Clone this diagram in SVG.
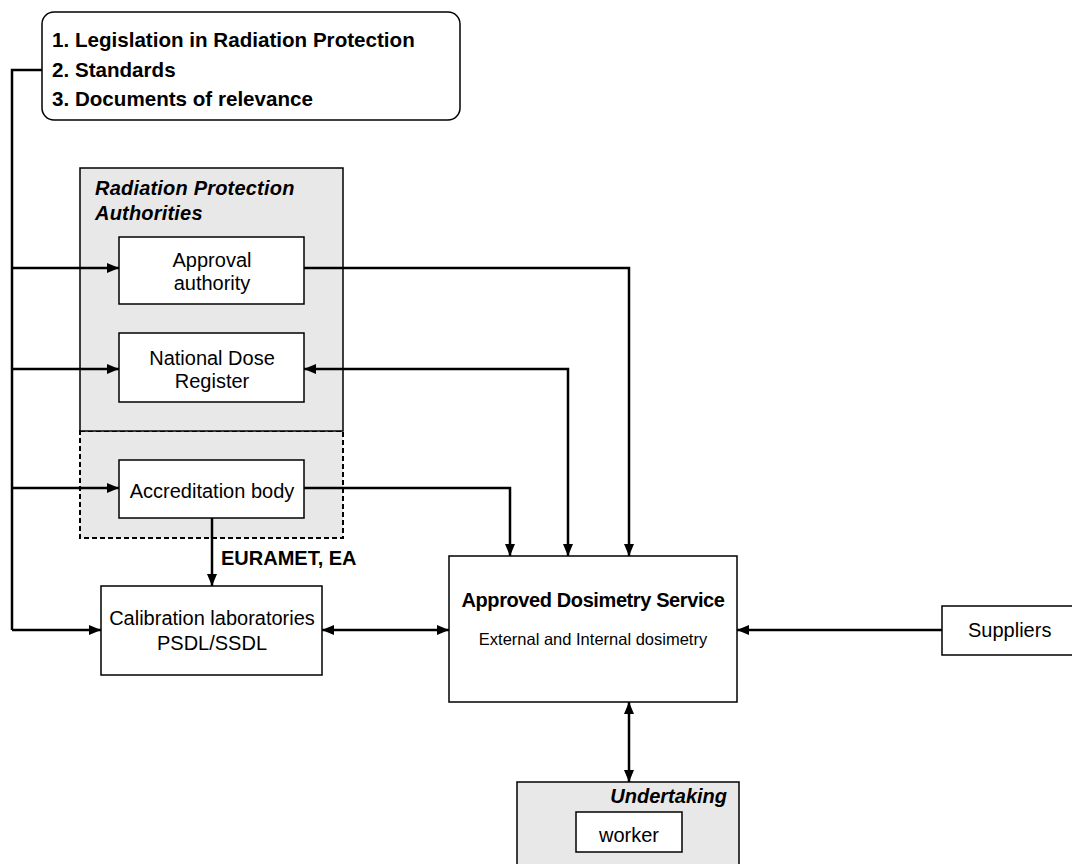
<svg xmlns="http://www.w3.org/2000/svg" width="1072" height="864" viewBox="0 0 1072 864">
<style>
text{font-family:"Liberation Sans",Arial,sans-serif;fill:#000}
.r{font-size:20px}
.t{font-size:20.6px;font-weight:bold}
.c{text-anchor:middle}
.b{font-weight:bold}
.bi{font-weight:bold;font-style:italic;font-size:20px}
.box{fill:#fff;stroke:#000;stroke-width:1.5}
.grey{fill:#e8e8e8;stroke:#000;stroke-width:1.5}
.conn{fill:none;stroke:#000;stroke-width:2.5}
</style>
<defs>
<marker id="ah" markerUnits="userSpaceOnUse" markerWidth="12" markerHeight="10" refX="12" refY="5" orient="auto-start-reverse"><path d="M0,0 L12,5 L0,10 z" fill="#000"/></marker>
</defs>
<rect width="1072" height="864" fill="#fff"/>

<g id="legislation">
<rect x="42" y="12" width="418" height="108" rx="12" ry="12" class="box"/>
<text class="t" x="52" y="47">1. Legislation in Radiation Protection</text>
<text class="t" x="52" y="77">2. Standards</text>
<text class="t" x="52" y="106">3. Documents of relevance</text>
</g>

<g id="rpa">
<rect x="80" y="431" width="263" height="107" fill="#e8e8e8" stroke="#000" stroke-width="2" stroke-dasharray="5,3"/>
<rect x="80" y="168" width="263" height="263" class="grey"/>
<text class="bi" x="95" y="195" letter-spacing="0.2">Radiation Protection</text>
<text class="bi" x="95" y="220" letter-spacing="0.2">Authorities</text>
</g>

<g id="approval">
<rect x="119" y="237" width="185" height="67" class="box"/>
<text class="r c" x="212" y="267">Approval</text>
<text class="r c" x="212" y="290">authority</text>
</g>

<g id="ndr">
<rect x="119" y="333" width="185" height="69" class="box"/>
<text class="r c" x="212" y="365">National Dose</text>
<text class="r c" x="212" y="388">Register</text>
</g>

<g id="accreditation">
<rect x="119" y="460" width="185" height="58" class="box"/>
<text class="r c" x="212" y="498">Accreditation body</text>
</g>

<g id="calibration">
<rect x="101" y="586" width="221" height="89" class="box"/>
<text class="r c" x="212" y="625">Calibration laboratories</text>
<text class="r c" x="212" y="650">PSDL/SSDL</text>
</g>

<g id="ads">
<rect x="449" y="556" width="288" height="146" class="box"/>
<text class="b c" x="593" y="607" font-size="20" letter-spacing="-0.4">Approved Dosimetry Service</text>
<text class="c" x="593" y="645" font-size="16.5">External and Internal dosimetry</text>
</g>

<g id="suppliers">
<rect x="942" y="606" width="140" height="49" class="box"/>
<text class="r" x="968" y="637">Suppliers</text>
</g>

<g id="undertaking">
<rect x="517" y="782" width="222" height="90" class="grey"/>
<text class="bi" x="727" y="803" text-anchor="end">Undertaking</text>
<rect x="576" y="812" width="106" height="40" class="box"/>
<text class="r c" x="629" y="842">worker</text>
</g>

<g id="connectors">
<path class="conn" d="M42,70 H12 V630" stroke-width="3"/>
<path class="conn" d="M12,268 H119" marker-end="url(#ah)"/>
<path class="conn" d="M12,369 H119" marker-end="url(#ah)"/>
<path class="conn" d="M12,488 H119" marker-end="url(#ah)"/>
<path class="conn" d="M12,630 H101" marker-end="url(#ah)"/>
<path class="conn" d="M304,268 H629 V556" marker-end="url(#ah)"/>
<path class="conn" d="M568,556 V369 H304" marker-start="url(#ah)" marker-end="url(#ah)"/>
<path class="conn" d="M304,488 H510 V556" marker-end="url(#ah)"/>
<path class="conn" d="M212,518 V586" marker-end="url(#ah)"/>
<path class="conn" d="M322,630 H449" marker-start="url(#ah)" marker-end="url(#ah)"/>
<path class="conn" d="M942,630 H737" marker-end="url(#ah)"/>
<path class="conn" d="M629,702 V782" marker-start="url(#ah)" marker-end="url(#ah)"/>
<text class="r b" x="221" y="565">EURAMET, EA</text>
</g>
</svg>
